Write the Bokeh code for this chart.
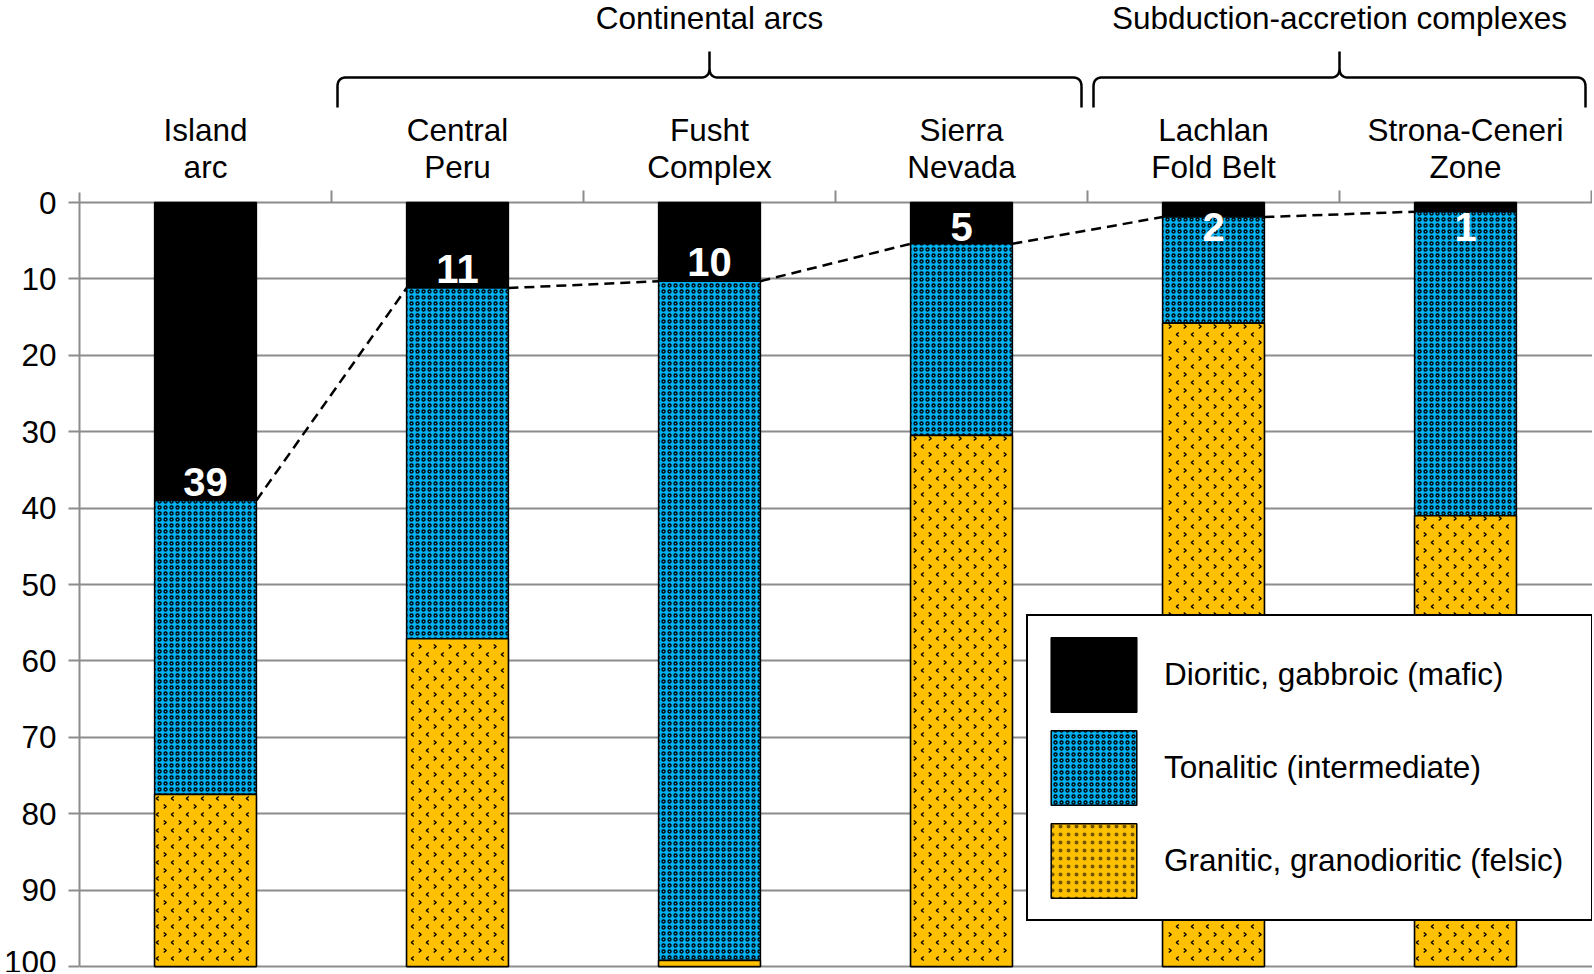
import numpy as np
from bokeh.plotting import figure
from bokeh.models import Range1d, FixedTicker, Legend, LegendItem
from bokeh.core.properties import value
from bokeh.embed import file_html
from bokeh.resources import INLINE

# ---------------- data ----------------
categories = ["Island\narc", "Central\nPeru", "Fusht\nComplex", "Sierra\nNevada",
              "Lachlan\nFold Belt", "Strona-Ceneri\nZone"]
mafic = [39.0, 11.2, 10.3, 5.4, 1.9, 1.2]
intermediate = [38.5, 45.9, 88.9, 25.1, 13.9, 39.8]
felsic = [22.5, 42.9, 0.8, 69.5, 84.2, 59.0]
series_names = ["Dioritic, gabbroic (mafic)", "Tonalitic (intermediate)",
                "Granitic, granodioritic (felsic)"]
groups = ["Continental arcs", "Subduction-accretion complexes"]
group_first = [1, 4]
group_last = [3, 5]
y_ticks = [0, 10, 20, 30, 40, 50, 60, 70, 80, 90, 100]

# ---------------- layout / style ----------------
W, H = 1592, 972
LEFT = 79
ZERO_PX = 202          # pixel row of the 0 line
PY = 7.64              # pixels per percent
PXX = 252.0            # pixels per category
FRAME_W = W - LEFT
X_END = FRAME_W / PXX
Y_BOTTOM = 100 + (H - ZERO_PX - 100 * PY) / PY
Y_TOP = -ZERO_PX / PY
BAR_W = 0.404
GRID = "#8c8c8c"
FONT = "Liberation Sans"
FS_PX = 31.5
FS = f"{FS_PX}px"
LAB_PX = 40
MID = 0.3465           # centre of the text box above the baseline, in em
BLUE = "#00B0F0"
GOLD = "#FFC000"
CHEV_W = 1.4

p = figure(width=W, height=H, x_range=Range1d(0, X_END),
           y_range=Range1d(Y_BOTTOM, Y_TOP),
           output_backend="svg", toolbar_location=None, x_axis_location=None,
           min_border_left=LEFT, min_border_right=0, min_border_top=0, min_border_bottom=0)
p.outline_line_color = None
p.background_fill_color = "white"
p.border_fill_color = "white"
for g in p.xgrid:
    g.visible = False

yax = p.yaxis[0]
yax.ticker = FixedTicker(ticks=y_ticks)
yax.bounds = (-10 / PY, 100)
yax.major_tick_out = 11
yax.major_tick_in = 0
yax.minor_tick_line_color = None
yax.axis_line_color = GRID
yax.axis_line_width = 2
yax.major_tick_line_color = GRID
yax.major_tick_line_width = 2
yax.major_label_text_font = FONT
yax.major_label_text_font_size = FS
yax.major_label_text_color = "black"
yax.major_label_standoff = 12
p.ygrid.ticker = FixedTicker(ticks=y_ticks)
p.ygrid.grid_line_color = GRID
p.ygrid.grid_line_width = 2

n = len(categories)
x = np.arange(n) + 0.5
m = np.array(mafic)
c2 = m + np.array(intermediate)
c3 = c2 + np.array(felsic)

r1 = p.vbar(x=x, bottom=0, top=m, width=BAR_W, fill_color="black",
            line_color="black", line_width=1.5)
r2 = p.vbar(x=x, bottom=m, top=c2, width=BAR_W, fill_color=BLUE,
            line_color="black", line_width=1.5, hatch_pattern="ring",
            hatch_color="black", hatch_scale=6, hatch_weight=1.3)
# felsic legend key: same bars, textured, lying under the plain felsic bars
r3_key = p.vbar(x=x, bottom=c2, top=c3, width=BAR_W, fill_color=GOLD,
                line_color="black", line_width=1.5, hatch_pattern="dot",
                hatch_color="black", hatch_alpha=0.55, hatch_scale=8)
r3 = p.vbar(x=x, bottom=c2, top=c3, width=BAR_W, fill_color=GOLD,
            line_color="black", line_width=1.5)

# chevron texture ("<" and ">" marks) for the felsic share, built in pixel space
def chevrons(xl, xr, yt, yb):
    xs, ys = [], []
    k0 = int(np.floor(yt / 8))
    for k in range(k0, int(np.ceil(yb / 8)) + 1):
        yc = 4 + 8 * k
        if yc - 2.5 < yt or yc + 2.5 > yb:
            continue
        odd = k % 2
        off = 7.5 if odd else 0.0
        j0 = int(np.floor((xl - 3 - off) / 15))
        for j in range(j0, j0 + int((xr - xl) / 15) + 3):
            xc = 3 + off + 15 * j
            if xc - 2.5 < xl or xc + 2.5 > xr:
                continue
            d = 1.3 if odd else -1.3
            xs.append([(xc - d) / PXX, (xc + d) / PXX, (xc - d) / PXX])
            ys.append([(yc - 2) / PY, yc / PY, (yc + 2) / PY])
    return xs, ys

cxs, cys = [], []
for i in range(n):
    xl = (x[i] - BAR_W / 2) * PXX
    xr = (x[i] + BAR_W / 2) * PXX
    a, b = chevrons(xl, xr, c2[i] * PY, c3[i] * PY)
    cxs += a
    cys += b
p.multi_line(xs=cxs, ys=cys, line_color="black", line_width=CHEV_W)

# series lines for the mafic share
p.segment(x0=x[:-1] + BAR_W / 2, y0=m[:-1], x1=x[1:] - BAR_W / 2, y1=m[1:],
          line_color="black", line_width=2.5, line_dash="10 6")

# value labels (baseline 5 px above the boundary, at least 38 px below the bar top)
base_px = np.maximum(m * PY - 5, 38)
lab_y = (base_px - MID * LAB_PX) / PY
p.text(x=x, y=lab_y, text=[f"{round(v)}" for v in mafic], text_color="white",
       text_font=value(FONT), text_font_style="bold", text_font_size=f"{LAB_PX}px",
       text_align="center", text_baseline="middle")

# category boundary ticks on top axis
bx = np.arange(1, n + 1)
p.segment(x0=bx, y0=np.zeros(n), x1=bx, y1=np.full(n, -12 / PY),
          line_color=GRID, line_width=2)

# category labels (two lines); baselines 62 px and 25 px above the 0 line
line1 = [c.split("\n")[0] for c in categories]
line2 = [c.split("\n")[1] for c in categories]
for txt, up in ((line1, 62), (line2, 25)):
    p.text(x=x, y=np.full(n, -(up + MID * FS_PX) / PY), text=txt, text_color="black",
           text_font=value(FONT), text_font_size=FS, text_align="center",
           text_baseline="middle")

# braces
def quad(p0, c, p1, k=12):
    t = np.linspace(0, 1, k)
    return [((1 - tt) ** 2 * p0[0] + 2 * (1 - tt) * tt * c[0] + tt ** 2 * p1[0],
             (1 - tt) ** 2 * p0[1] + 2 * (1 - tt) * tt * c[1] + tt ** 2 * p1[1]) for tt in t]

def brace(xa, xb, inset=6, v_end=95, v_bar=125, v_tip=151, r=9):
    a = xa * PXX + inset
    b = xb * PXX - inset
    c = (a + b) / 2
    pts = [(a, v_end)]
    pts += quad((a, v_bar - r), (a, v_bar), (a + r, v_bar))
    pts += quad((c - r, v_bar), (c, v_bar), (c, v_bar + r))
    pts += [(c, v_tip)]
    pts += quad((c, v_bar + r), (c, v_bar), (c + r, v_bar))
    pts += quad((b - r, v_bar), (b, v_bar), (b, v_bar - r))
    pts += [(b, v_end)]
    return [q[0] / PXX for q in pts], [-q[1] / PY for q in pts]

bxs, bys = [], []
for f, l in zip(group_first, group_last):
    xs_, ys_ = brace(f, l + 1)
    bxs.append(xs_)
    bys.append(ys_)
p.multi_line(xs=bxs, ys=bys, line_color="black", line_width=2.5)

gx = [(f + l + 1) / 2 for f, l in zip(group_first, group_last)]
p.text(x=gx, y=[-(174 + MID * FS_PX) / PY] * len(groups), text=groups, text_color="black",
       text_font=value(FONT), text_font_size=FS, text_align="center",
       text_baseline="middle")

legend = Legend(items=[LegendItem(label=series_names[0], renderers=[r1]),
                       LegendItem(label=series_names[1], renderers=[r2]),
                       LegendItem(label=series_names[2], renderers=[r3_key])],
                location=(947, 51), margin=0, padding=12, spacing=0,
                glyph_width=107, glyph_height=93, label_standoff=17, label_width=415,
                label_text_font=FONT, label_text_font_size=FS,
                label_text_color="black", border_line_color="black",
                border_line_alpha=1.0, border_line_width=2,
                background_fill_color="white", background_fill_alpha=1.0)
p.add_layout(legend)

open("out.html", "w").write(file_html(p, INLINE))
